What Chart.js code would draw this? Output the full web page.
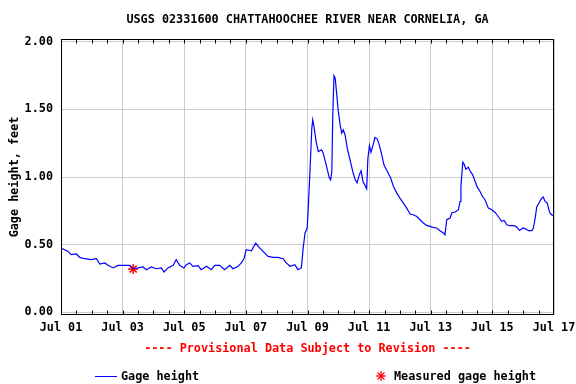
<!DOCTYPE html>
<html>
<head>
<meta charset="utf-8">
<script src="https://cdn.jsdelivr.net/npm/chart.js@4"></script>
<style>
  html, body { margin: 0; padding: 0; background: #fff; }
  #wrap { position: relative; width: 576px; height: 384px; overflow: hidden; }
  canvas { position: absolute; left: 0; top: 0; }
  .txt { position: absolute; font-family: "DejaVu Sans Mono", monospace; font-weight: bold; font-size: 11.8px; line-height: 14px; white-space: nowrap; color: #000; }
</style>
</head>
<body>
<div id="wrap">
  <canvas id="c" width="576" height="384"></canvas>
  <div class="txt" id="title" style="left:61px; width:493px; top:12px; text-align:center;">USGS 02331600 CHATTAHOOCHEE RIVER NEAR CORNELIA, GA</div>
  <div class="txt" id="note" style="left:61px; width:493px; top:341px; text-align:center; color:#ff0000;">---- Provisional Data Subject to Revision ----</div>
  <svg style="position:absolute; left:94px; top:370px;" width="24" height="12"><line x1="1" y1="6.5" x2="23" y2="6.5" stroke="#0000ff" stroke-width="1"/></svg>
  <div class="txt" style="left:121px; top:369px;">Gage height</div>
  <svg style="position:absolute; left:375px; top:370px;" width="12" height="12">
    <g stroke="#ff0000" stroke-width="1.3">
      <line x1="6" y1="1" x2="6" y2="11"/><line x1="1" y1="6" x2="11" y2="6"/>
      <line x1="2.5" y1="2.5" x2="9.5" y2="9.5"/><line x1="9.5" y1="2.5" x2="2.5" y2="9.5"/>
    </g>
  </svg>
  <div class="txt" style="left:394px; top:369px;">Measured gage height</div>
</div>
<script>
// Time in days since Jul 01 00:00
const days = [0,0.23,0.33,0.50,0.61,0.77,0.98,1.15,1.26,1.42,1.53,1.69,1.85,2.07,2.23,2.34,2.50,2.66,2.77,2.93,3.09,3.26,3.34,3.47,3.64,3.74,3.85,3.99,
  4.07,4.18,4.28,4.45,4.55,4.72,4.88,4.99,5.15,5.31,5.48,5.58,5.75,5.85,5.94,6.01,6.18,6.32,6.43,6.56,6.72,6.88,7.04,7.21,7.31,7.44,7.59,7.69,7.80,
  7.86,7.92,7.99,8.03,8.08,8.14,8.17,8.21,8.28,8.35,8.46,8.51,8.62,8.71,8.75,8.79,8.82,8.86,8.90,8.95,9.00,9.06,9.11,9.16,9.22,9.29,9.38,9.48,9.55,9.61,9.68,9.74,9.80,9.87,9.92,9.96,10.01,10.06,10.13,10.19,10.26,10.33,
  10.41,10.48,10.59,10.70,10.79,10.90,11.00,11.11,11.22,11.33,11.43,11.55,11.65,11.76,11.87,11.98,12.08,12.19,12.30,12.36,12.41,12.46,12.52,12.63,12.68,12.79,12.90,12.95,12.98,13.04,
  13.08,13.14,13.22,13.27,13.36,13.44,13.51,13.60,13.69,13.76,13.87,13.98,14.09,14.19,14.30,14.38,14.47,14.57,14.68,14.77,14.88,14.99,15.09,15.17,15.28,15.33,15.39,15.44,15.52,15.60,15.65,15.71,15.78,15.85,15.89,15.96];
const gageHeight = [0.475,0.450,0.426,0.431,0.406,0.396,0.389,0.396,0.357,0.365,0.347,0.328,0.347,0.347,0.347,0.322,0.328,0.335,0.315,0.335,0.322,0.328,0.298,0.328,0.347,0.389,0.347,0.328,
  0.352,0.365,0.340,0.345,0.315,0.340,0.315,0.347,0.347,0.315,0.347,0.322,0.340,0.365,0.396,0.463,0.455,0.512,0.480,0.450,0.413,0.406,0.406,0.396,0.365,0.340,0.352,0.315,0.328,
  0.475,0.586,0.623,0.795,1.041,1.361,1.422,1.373,1.262,1.188,1.201,1.176,1.077,0.992,0.979,1.041,1.459,1.749,1.730,1.607,1.483,1.385,1.324,1.348,1.311,1.213,1.127,1.031,0.979,0.957,1.016,1.046,0.967,0.937,0.913,1.139,1.232,1.184,1.238,1.292,1.282,1.238,
  1.164,1.090,1.041,0.992,0.930,0.881,0.844,0.807,0.770,0.726,0.721,0.708,0.684,0.660,0.642,0.635,0.627,0.623,0.603,0.593,0.586,0.573,0.684,0.697,0.734,0.741,0.758,0.819,0.930,1.110,
  1.097,1.058,1.073,1.048,1.016,0.967,0.925,0.893,0.852,0.832,0.770,0.758,0.738,0.708,0.672,0.679,0.647,0.640,0.640,0.635,0.605,0.623,0.615,0.603,0.603,0.623,0.697,0.778,0.812,0.844,0.852,0.819,0.807,0.745,0.728,0.714];
const measuredDays = [2.34];
const measuredHeight = [0.32];
const xTickDays = [0,2,4,6,8,10,12,14,16];
const xTickLabels = ['Jul 01','Jul 03','Jul 05','Jul 07','Jul 09','Jul 11','Jul 13','Jul 15','Jul 17'];
const yTickValues = [0,0.5,1.0,1.5,2.0];
const yTickLabels = ['0.00','0.50','1.00','1.50','2.00'];

const FONT = { family: '"DejaVu Sans Mono", monospace', size: 11.8, weight: 'bold' };

const boxPlugin = {
  id: 'box',
  afterDraw(chart) {
    const {ctx, chartArea: a, scales: {x}} = chart;
    ctx.save();
    ctx.strokeStyle = '#000';
    ctx.lineWidth = 1;
    const L = Math.round(a.left) + 0.5, T = Math.round(a.top) + 0.5;
    const R = Math.round(a.right) - 0.5, B = Math.round(a.bottom) - 0.5;
    ctx.beginPath();
    for (let d = 0.5; d < 16; d += 0.5) {
      const px = Math.round(x.getPixelForValue(d)) + 0.5;
      ctx.moveTo(px, T); ctx.lineTo(px, T + 4);
      ctx.moveTo(px, B); ctx.lineTo(px, B - 4);
    }
    ctx.stroke();
    ctx.strokeRect(L, T, R - L, B - T);
    ctx.restore();
  }
};

new Chart(document.getElementById('c'), {
  type: 'line',
  data: {
    datasets: [
      {
        label: 'Gage height',
        data: days.map((d, i) => ({x: d, y: gageHeight[i]})),
        borderColor: '#0000ff',
        borderWidth: 1.2,
        pointRadius: 0,
        tension: 0,
        fill: false
      },
      {
        label: 'Measured gage height',
        type: 'scatter',
        data: measuredDays.map((d, i) => ({x: d, y: measuredHeight[i]})),
        pointStyle: 'star',
        pointRadius: 5,
        borderColor: '#ff0000',
        backgroundColor: '#ff0000',
        pointBorderWidth: 1.5,
        showLine: false
      }
    ]
  },
  options: {
    responsive: false,
    animation: false,
    devicePixelRatio: 1,
    layout: { padding: { top: 39, right: 22, left: 0, bottom: 0 } },
    plugins: { legend: { display: false }, title: { display: false }, tooltip: { enabled: false } },
    scales: {
      x: {
        type: 'linear',
        min: 0, max: 16,
        afterBuildTicks: s => { s.ticks = xTickDays.map(v => ({value: v})); },
        afterFit: s => { s.height = 69; s.paddingLeft = 0; s.paddingRight = 0; },
        ticks: {
          callback: (v, i) => xTickLabels[i],
          font: FONT, color: '#000', padding: 6, maxRotation: 0, autoSkip: false
        },
        grid: { color: '#cccccc', lineWidth: 1, drawTicks: false },
        border: { display: false }
      },
      y: {
        type: 'linear',
        min: -0.02, max: 2.02,
        afterBuildTicks: s => { s.ticks = yTickValues.map(v => ({value: v})); },
        afterFit: s => { s.width = 61; s.paddingTop = 0; s.paddingBottom = 0; },
        ticks: {
          callback: (v, i) => yTickLabels[i],
          font: FONT, color: '#000', padding: 8
        },
        grid: { color: '#cccccc', lineWidth: 1, drawTicks: false },
        border: { display: false },
        title: { display: true, text: 'Gage height, feet', font: FONT, color: '#000', padding: { top: 8, bottom: 0 } }
      }
    }
  },
  plugins: [boxPlugin]
});
</script>
</body>
</html>
